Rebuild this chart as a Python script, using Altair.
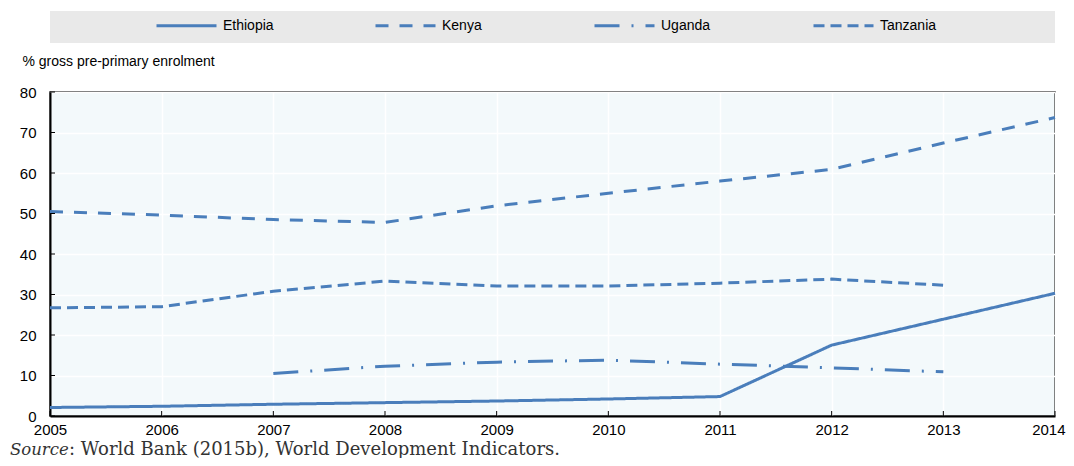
import altair as alt
import pandas as pd

years = list(range(2005, 2015))
countries = ["Ethiopia", "Kenya", "Uganda", "Tanzania"]
ethiopia = [2.1, 2.4, 2.9, 3.3, 3.7, 4.2, 4.8, 17.5, 23.9, 30.3]
kenya = [50.5, 49.6, 48.5, 47.8, 51.9, 55.0, 58.0, 60.9, 67.4, 73.7]
uganda = [None, None, 10.5, 12.3, 13.3, 13.8, 12.8, 11.9, 10.9, None]
tanzania = [26.7, 27.0, 30.8, 33.3, 32.1, 32.1, 32.8, 33.8, 32.3, None]
y_ticks = list(range(0, 90, 10))
y_title = "% gross pre-primary enrolment"
source_label = "Source"
source_text = ": World Bank (2015b), World Development Indicators."

BLUE = "#4A7EBB"
SANS = "'Liberation Sans', Arial, sans-serif"
SERIF = "'DejaVu Serif', serif"
W, H = 1005, 324

rows = []
for name, vals in zip(countries, [ethiopia, kenya, uganda, tanzania]):
    for yr, v in zip(years, vals):
        if v is not None:
            rows.append({"country": name, "year": yr, "value": v})
df = pd.DataFrame(rows)

xscale = alt.Scale(domain=[2005, 2014], nice=False, zero=False)
yscale = alt.Scale(domain=[0, 80], nice=False)

dashes = [[1, 0], [13, 11], [25, 12, 2, 12], [11, 6]]

legend_bg = alt.Chart(pd.DataFrame({"a": [0]})).mark_rect(color="#E9E9E9").encode(
    x=alt.value(0), x2=alt.value(W), y=alt.value(-81), y2=alt.value(-49)
)

last_year_test = "datum.value == 2014"

lines = alt.Chart(df).mark_line(strokeWidth=3, color=BLUE).encode(
    x=alt.X("year:Q", scale=xscale,
            axis=alt.Axis(values=years, format="d", title=None, ticks=False,
                          domainColor="black", domainWidth=2, grid=True,
                          gridColor="white", gridWidth=1.5,
                          labelFont=SANS, labelFontSize=15, labelColor="black",
                          labelPadding=6, labelFlush=False,
                          labelAlign=alt.condition(last_year_test, alt.value("right"), alt.value("center")),
                          labelOffset=alt.condition(last_year_test, alt.value(10), alt.value(0)))),
    y=alt.Y("value:Q", scale=yscale,
            axis=alt.Axis(values=y_ticks, title=y_title, ticks=False,
                          domainColor="black", domainWidth=2, grid=True,
                          gridColor="white", gridWidth=1.5,
                          labelFont=SANS, labelFontSize=15, labelColor="black",
                          labelPadding=14,
                          titleAngle=0, titleAlign="left", titleBaseline="middle",
                          titleX=-28, titleY=-31, titleFont=SANS, titleFontSize=14,
                          titleFontWeight="normal", titleColor="black")),
    strokeDash=alt.StrokeDash(
        "country:N",
        scale=alt.Scale(domain=countries, range=dashes),
        legend=alt.Legend(orient="none", legendX=105, legendY=-98, direction="horizontal",
                          columns=4, gridAlign="all", symbolType="stroke",
                          symbolSize=3600, symbolStrokeWidth=3, symbolStrokeColor=BLUE,
                          labelFont=SANS, labelFontSize=14, labelColor="black",
                          labelOffset=5, columnPadding=89, title=None, padding=0),
    ),
    order="year:Q",
)

tick_df = pd.DataFrame({"v": y_ticks})
yticks = alt.Chart(tick_df).mark_rule(color="black", strokeWidth=1).encode(
    y=alt.Y("v:Q", scale=yscale), x=alt.value(0), x2=alt.value(5)
)
xtick_df = pd.DataFrame({"yr": years})
xticks = alt.Chart(xtick_df).mark_rule(color="black", strokeWidth=1).encode(
    x=alt.X("yr:Q", scale=xscale), y=alt.value(H), y2=alt.value(H - 5)
)

src1 = alt.Chart(pd.DataFrame({"t": [source_label]})).mark_text(
    align="left", baseline="alphabetic", font=SERIF, fontSize=16.5, fontStyle="italic", color="#333333"
).encode(x=alt.value(-40), y=alt.value(363), text="t:N")
src2 = alt.Chart(pd.DataFrame({"t": [source_text]})).mark_text(
    align="left", baseline="alphabetic", font=SERIF, fontSize=18, color="#333333"
).encode(x=alt.value(19), y=alt.value(363), text="t:N")

chart = alt.layer(legend_bg, lines, yticks, xticks, src1, src2).properties(
    width=W, height=H, autosize="none",
    padding={"left": 42, "top": 84, "right": 11, "bottom": 42},
    background="white",
).configure_view(fill="#F3F9FB", stroke="#222222", strokeWidth=1.5)

chart.save("out.html", embed_options={"renderer": "svg", "actions": False})
